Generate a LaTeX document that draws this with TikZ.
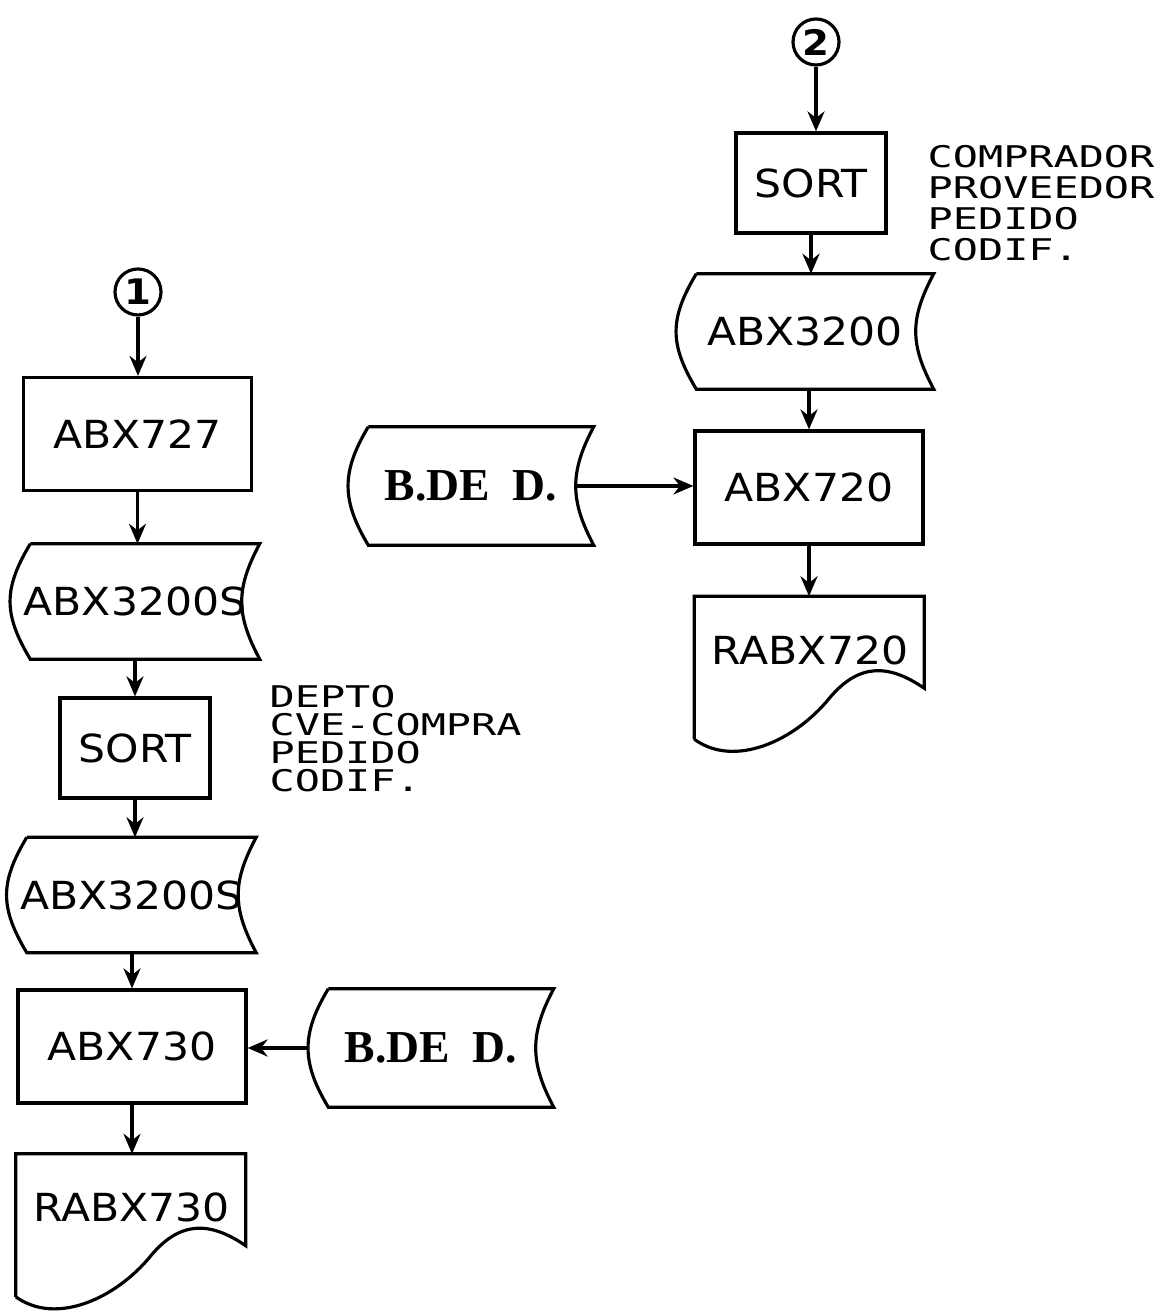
\documentclass[tikz,border=0pt]{standalone}
\usepackage{fontspec}
\usepackage{tikz}
\usetikzlibrary{arrows.meta}
\newfontfamily\boxfont[FakeStretch=1.1]{DejaVu Sans}
\newfontfamily\storefont{Liberation Serif}
\newfontfamily\keyfont[FakeStretch=1.4]{DejaVu Sans Mono}
\tikzset{
  prog/.style    ={rectangle, draw=black, line width=0.9pt, inner sep=1pt,
                   minimum width=2.28cm, minimum height=1.13cm,
                   font=\boxfont\fontsize{11}{13}\selectfont},
  sortbox/.style ={prog, minimum width=1.50cm, minimum height=1.00cm},
  store/.style   ={rectangle, inner sep=1pt, minimum width=2.48cm, minimum height=1.14cm,
                   font=\boxfont\fontsize{11}{13}\selectfont},
  bdd/.style     ={store, minimum width=2.44cm, minimum height=1.17cm,
                   font=\storefont\bfseries\fontsize{13}{15}\selectfont},
  doc/.style     ={rectangle, inner sep=1pt, minimum width=2.30cm, minimum height=1.06cm,
                   font=\boxfont\fontsize{11}{13}\selectfont},
  conn/.style    ={circle, draw=black, line width=0.9pt, minimum size=0.46cm, inner sep=0pt,
                   font=\boxfont\bfseries\fontsize{10}{11}\selectfont},
  keys/.style    ={anchor=west, align=left, inner sep=0pt},
  outline/.style ={draw=black, line width=0.9pt},
  flow/.style    ={draw=black, line width=0.9pt, -{Stealth[length=2mm,width=1.7mm]}},
}
% stored data outline round a node: convex left side, concave right side
\newcommand{\storeline}[1]{%
  \draw[outline] ([xshift=0.2cm]#1.north west) -- (#1.north east)
    .. controls ([xshift=-0.24cm,yshift=-0.45cm]#1.north east)
            and ([xshift=-0.24cm,yshift=0.45cm]#1.south east) .. (#1.south east)
    -- ([xshift=0.2cm]#1.south west)
    .. controls ([xshift=-0.07cm,yshift=0.45cm]#1.south west)
            and ([xshift=-0.07cm,yshift=-0.45cm]#1.north west) .. ([xshift=0.2cm]#1.north west);
  \coordinate (#1-r) at ([xshift=-0.18cm]#1.east);
}
% document outline round a node: wavy bottom edge
\newcommand{\docline}[1]{%
  \begin{scope}[shift={(#1.north west)}]
    \draw[outline] (0,-1.43) -- (0,0) -- (2.30,0) -- (2.30,-0.92)
      .. controls (1.95,-0.68) and (1.65,-0.66) .. (1.35,-1.02)
      .. controls (1.00,-1.45) and (0.40,-1.72) .. (0,-1.43);
  \end{scope}%
}

\begin{document}
\begin{tikzpicture}
\useasboundingbox (0,0) rectangle (11.61,13.14);

% ---------------- left column ----------------
\node[conn]    (c1)       at (1.38,10.22) {1};
\node[prog]    (abx727)   at (1.375,8.80) {ABX727};
\node[store]   (abx3200a) at (1.35,7.125) {ABX3200S};
\node[sortbox] (sorta)    at (1.35,5.66)  {SORT};
\node[store]   (abx3200b) at (1.315,4.19) {ABX3200S};
\node[prog]    (abx730)   at (1.32,2.675) {ABX730};
\node[doc]     (rabx730)  at (1.315,1.065) {RABX730};
\node[bdd]     (bd2)      at (4.31,2.66)  {B.DE\ \ D.};

\node[keys, font=\keyfont\fontsize{8.5}{7.9}\selectfont] (keysa) at (2.69,5.755)
      {DEPTO\\CVE-COMPRA\\PEDIDO\\CODIF.};

% ---------------- right column ----------------
\node[conn]    (c2)       at (8.16,12.72) {2};
\node[sortbox] (sortb)    at (8.11,11.31) {SORT};
\node[store, minimum width=2.56cm] (abx3200c) at (8.05,9.825) {ABX3200};
\node[prog]    (abx720)   at (8.09,8.265) {ABX720};
\node[doc]     (rabx720)  at (8.10,6.64)  {RABX720};
\node[bdd]     (bd1)      at (4.71,8.28)  {B.DE\ \ D.};

\node[keys, font=\keyfont\fontsize{8.5}{8.8}\selectfont] (keysb) at (9.27,11.105)
      {COMPRADOR\\PROVEEDOR\\PEDIDO\\CODIF.};

% ---------------- outlines ----------------
\storeline{abx3200a}
\storeline{abx3200b}
\storeline{abx3200c}
\storeline{bd1}
\storeline{bd2}
\docline{rabx730}
\docline{rabx720}

% ---------------- flows ----------------
\draw[flow] (c1) -- (c1 |- abx727.north);
\draw[flow] (abx727.south) -- (abx727.south |- abx3200a.north);
\draw[flow] (abx3200a.south) -- (abx3200a.south |- sorta.north);
\draw[flow] (sorta.south) -- (sorta.south |- abx3200b.north);
\draw[flow] (abx730.north |- abx3200b.south) -- (abx730.north);
\draw[flow] (abx730.south) -- (abx730.south |- rabx730.north);
\draw[flow] (bd2.west) -- (bd2.west -| abx730.east);

\draw[flow] (c2) -- (c2 |- sortb.north);
\draw[flow] (sortb.south) -- (sortb.south |- abx3200c.north);
\draw[flow] (abx720.north |- abx3200c.south) -- (abx720.north);
\draw[flow] (abx720.south) -- (abx720.south |- rabx720.north);
\draw[flow] (bd1-r) -- (bd1-r -| abx720.west);

\end{tikzpicture}
\end{document}
